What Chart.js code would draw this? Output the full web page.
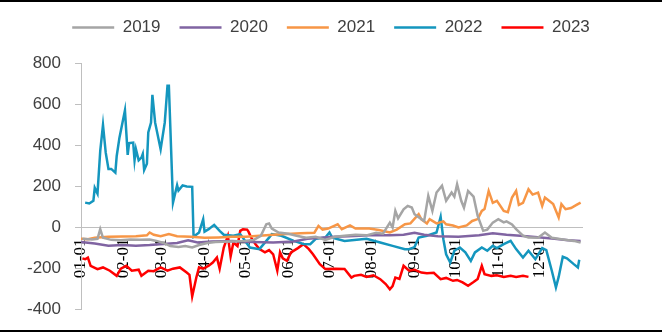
<!DOCTYPE html>
<html>
<head>
<meta charset="utf-8">
<script src="https://cdn.jsdelivr.net/npm/chart.js@4/dist/chart.umd.min.js"></script>
<style>
  body { margin: 0; background: #fff; }
  #wrap { position: relative; width: 662px; height: 334px; }
  .rule { position: absolute; left: 0; width: 662px; height: 2px; background: #000; }
</style>
</head>
<body>
<div id="wrap">
  <canvas id="myChart" width="662" height="334"></canvas>
  <div class="rule" style="top:0"></div>
  <div class="rule" style="top:330px"></div>
</div>
<script>
// x = day of year, ticks at the first of each month
const monthDays = [0, 31, 59, 90, 120, 151, 181, 212, 243, 273, 304, 334, 365];
const monthLabels = ['01-01', '02-01', '03-01', '04-01', '05-01', '06-01', '07-01', '08-01', '09-01', '10-01', '11-01', '12-01', ''];
const yTicks = [-400, -200, 0, 200, 400, 600, 800];

const days2019 = [1, 8, 12, 14, 16, 22, 29, 36, 43, 50, 55, 60, 65, 71, 76, 81, 86, 92, 98, 109, 119, 126, 131, 135, 137, 139, 144, 151, 157, 164, 171, 178, 185, 192, 200, 208, 215, 220, 225, 227, 229, 231, 235, 238, 241, 243, 248, 250, 253, 256, 259, 263, 266, 270, 272, 274, 277, 279, 282, 286, 289, 293, 296, 300, 304, 308, 310, 314, 317, 322, 326, 333, 338, 343, 350, 359, 364];
const vals2019 = [-55, -58, -55, -8, -50, -60, -62, -58, -60, -58, -65, -75, -90, -95, -90, -97, -85, -75, -70, -68, -65, -60, -40, 16, 20, -5, -24, -30, -40, -50, -45, -60, -45, -40, -35, -38, -25, -30, 24, 0, 81, 45, 89, 105, 97, 65, 41, 32, 154, 81, 170, 203, 130, 170, 150, 211, 130, 97, 178, 150, 57, -16, -10, 24, 41, 25, 30, 15, -8, -40, -49, -50, -24, -50, -57, -65, -73];

const days2020 = [0, 10, 20, 30, 40, 50, 60, 70, 78, 85, 95, 110, 125, 140, 155, 165, 175, 185, 195, 210, 225, 235, 243, 250, 260, 275, 290, 300, 310, 320, 335, 345, 355, 364];
const vals2020 = [-70, -78, -88, -85, -88, -85, -80, -75, -62, -73, -68, -65, -70, -73, -68, -55, -50, -45, -42, -38, -38, -35, -25, -35, -42, -45, -38, -28, -35, -40, -48, -55, -62, -65];

const days2021 = [0, 5, 10, 20, 30, 40, 48, 50, 53, 58, 64, 70, 80, 90, 100, 110, 120, 130, 140, 150, 160, 170, 173, 176, 180, 187, 190, 196, 200, 210, 217, 225, 230, 236, 240, 246, 248, 252, 254, 259, 264, 266, 271, 275, 281, 285, 289, 292, 294, 297, 300, 303, 308, 311, 314, 317, 319, 322, 326, 329, 333, 336, 338, 341, 344, 348, 350, 353, 357, 361, 364];
const vals2021 = [-55, -57, -50, -45, -44, -42, -38, -24, -35, -42, -32, -42, -45, -50, -48, -45, -45, -40, -35, -32, -28, -25, 8, -10, -5, 16, -8, 10, -5, -5, -12, -24, -10, 16, 20, 65, 40, 20, 41, 20, 30, 16, 10, 0, 10, 32, 41, 81, 90, 178, 120, 130, 81, 75, 146, 178, 110, 120, 186, 160, 170, 105, 146, 130, 114, 49, 114, 89, 95, 110, 121];

const days2022 = [3, 6, 9, 10, 12, 14, 16, 18, 20, 22, 25, 26, 28, 32, 34, 35, 38, 39, 40, 42, 44, 45, 46, 48, 49, 51, 52, 54, 58, 61, 63, 64, 67, 70, 71, 74, 77, 81, 82, 86, 89, 90, 93, 97, 101, 104, 111, 116, 123, 130, 137, 139, 146, 155, 162, 167, 171, 178, 181, 183, 192, 208, 218, 227, 236, 239, 243, 246, 252, 259, 262, 264, 266, 269, 272, 276, 280, 284, 287, 292, 296, 300, 303, 308, 313, 317, 322, 326, 331, 336, 339, 343, 346, 348, 351, 354, 359, 362, 363];
const vals2022 = [121, 117, 130, 193, 165, 373, 499, 364, 285, 285, 267, 348, 437, 570, 353, 410, 413, 327, 381, 327, 340, 358, 280, 310, 462, 510, 645, 510, 381, 510, 689, 689, 121, 206, 180, 205, 200, 198, -45, -24, 40, -20, -8, 13, -16, -35, -40, -32, -97, -105, -49, -32, -40, -65, -80, -81, -55, -49, -24, -49, -65, -55, -73, -89, -105, -105, -95, -49, -40, -24, 52, -57, -130, -170, -113, -97, -121, -162, -121, -97, -113, -89, -100, -81, -65, -105, -146, -113, -154, -100, -110, -210, -291, -240, -142, -150, -178, -194, -157];

const days2023 = [1, 3, 5, 7, 12, 16, 21, 26, 29, 33, 37, 42, 44, 49, 53, 58, 63, 67, 72, 77, 79, 81, 84, 86, 89, 93, 96, 99, 101, 104, 107, 109, 111, 114, 116, 118, 121, 122, 124, 127, 130, 134, 137, 140, 143, 145, 147, 150, 153, 158, 162, 166, 169, 174, 178, 185, 192, 197, 199, 204, 208, 213, 218, 222, 225, 227, 229, 232, 235, 239, 243, 248, 252, 257, 262, 266, 271, 274, 278, 282, 286, 289, 292, 294, 299, 303, 308, 313, 317, 322, 326];
const vals2023 = [-150, -154, -146, -186, -202, -194, -210, -235, -200, -186, -210, -205, -235, -210, -212, -194, -210, -200, -194, -219, -230, -335, -243, -194, -200, -186, -170, -146, -200, -97, -40, -140, -73, -90, -16, -8, -10, -20, -49, -80, -105, -121, -110, -130, -210, -121, -150, -162, -121, -100, -81, -105, -130, -178, -202, -200, -202, -243, -235, -230, -240, -232, -251, -275, -300, -285, -243, -250, -186, -210, -205, -219, -222, -220, -251, -245, -259, -255, -267, -283, -265, -250, -186, -227, -235, -232, -240, -235, -240, -235, -240];

const toPoints = (days, vals) => days.map((d, i) => ({ x: d, y: vals[i] }));

const series = [
  { label: '2019', days: days2019, vals: vals2019, color: '#A5A5A5' },
  { label: '2020', days: days2020, vals: vals2020, color: '#8064A2' },
  { label: '2021', days: days2021, vals: vals2021, color: '#F79646' },
  { label: '2022', days: days2022, vals: vals2022, color: '#1496BE' },
  { label: '2023', days: days2023, vals: vals2023, color: '#FF0000' }
];

// push the plot area down below the legend, and centre the legend on the whole canvas
const legendGap = {
  id: 'legendGap',
  afterInit(chart) {
    const fit = chart.legend.fit;
    chart.legend.fit = function () {
      fit.call(this);
      this.height += 17;
    };
  },
  afterLayout(chart) {
    chart.legend.left = 0;
    chart.legend.right = chart.width;
  }
};

const ctx = document.getElementById('myChart').getContext('2d');
new Chart(ctx, {
  type: 'line',
  data: {
    datasets: series.map(s => ({
      label: s.label,
      data: toPoints(s.days, s.vals),
      borderColor: s.color,
      backgroundColor: s.color,
      borderWidth: 2.5,
      pointRadius: 0,
      tension: 0,
      fill: false
    }))
  },
  plugins: [legendGap],
  options: {
    responsive: false,
    animation: false,
    layout: { padding: { left: 13, right: 80, top: 0, bottom: 23 } },
    plugins: {
      tooltip: { enabled: false },
      legend: {
        position: 'top',
        labels: {
          boxWidth: 42,
          boxHeight: 0,
          padding: 19,
          color: '#404040',
          font: { family: 'Liberation Sans', size: 17 }
        }
      }
    },
    scales: {
      x: {
        type: 'linear',
        min: 0,
        max: 365,
        position: { y: 0 },
        afterBuildTicks: scale => { scale.ticks = monthDays.map(v => ({ value: v })); },
        ticks: {
          autoSkip: false,
          minRotation: 90,
          maxRotation: 90,
          padding: 11,
          color: '#000',
          font: { family: 'Liberation Serif', size: 17 },
          callback: (v, i) => monthLabels[i]
        },
        grid: { drawOnChartArea: false, drawTicks: false },
        border: { color: '#BFBFBF', width: 1 }
      },
      y: {
        min: -400,
        max: 800,
        afterBuildTicks: scale => { scale.ticks = yTicks.map(v => ({ value: v })); },
        ticks: {
          padding: 14,
          color: '#404040',
          font: { family: 'Liberation Sans', size: 17 }
        },
        grid: { drawOnChartArea: false, tickLength: 6, color: '#BFBFBF' },
        border: { color: '#BFBFBF', width: 1 }
      }
    }
  }
});
</script>
</body>
</html>
